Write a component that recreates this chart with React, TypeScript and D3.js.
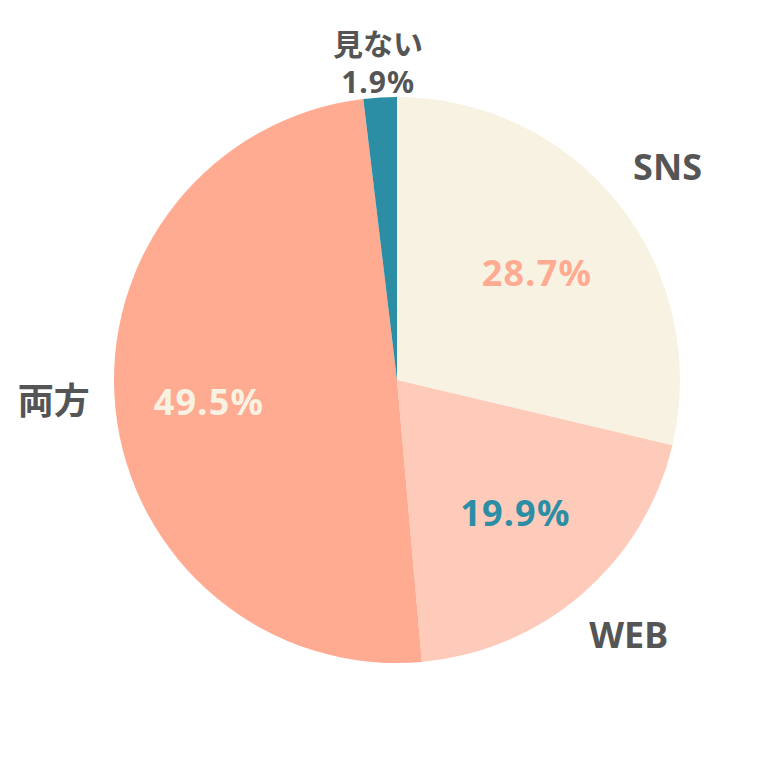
import React from "react";
import * as d3 from "d3";

const categories = ["SNS", "WEB", "両方", "見ない"];
const values = [28.7, 19.9, 49.5, 1.9];
const colors = ["#F8F2E3", "#FECBBB", "#FFAB91", "#2C8EA5"];
const innerTextColors = ["#FFAB91", "#2C8EA5", "#F8F2E3", null];

const W = 780;
const H = 763;
const cx = 397;
const cy = 380;
const R = 283;
// small label nudges (style only)
const outerNudge = [[0, 0], [6, -6], [0, -15], [0, 0]];
const innerNudge = [[-2, 5], [0, -4], [-8, 3], [0, 0]];

export default function App() {
  const pie = d3.pie<number>().sort(null).value((d) => d);
  const arcs = pie(values);
  const arc = d3.arc<d3.PieArcDatum<number>>().innerRadius(0).outerRadius(R);
  const inner = d3.arc<d3.PieArcDatum<number>>().innerRadius(181).outerRadius(181);
  const outer = d3.arc<d3.PieArcDatum<number>>().innerRadius(345).outerRadius(345);
  const font = "'Noto Sans', 'Noto Sans CJK JP', sans-serif";
  const fmt = d3.format(".1f");
  return (
    <svg width={W} height={H} style={{ position: "absolute", left: 0, top: 0 }}>
      <rect width={W} height={H} fill="#fff" />
      <g transform={`translate(${cx},${cy})`}>
        {arcs.map((a, i) => (
          <path key={i} d={arc(a) || ""} fill={colors[i]} />
        ))}
        {arcs.map((a, i) => {
          const c = innerTextColors[i];
          if (!c) return null;
          const [x, y] = inner.centroid(a);
          return (
            <text key={"in" + i} x={x + innerNudge[i][0]} y={y + innerNudge[i][1]} textAnchor="middle" dominantBaseline="central"
              fill={c} fontFamily={font} fontWeight={700} fontSize={36} letterSpacing={1.2}>
              {fmt(values[i])}%
            </text>
          );
        })}
        {arcs.map((a, i) => {
          const [x, y] = outer.centroid(a);
          const multi = innerTextColors[i] === null;
          if (multi) {
            const [mx, my] = d3.arc<d3.PieArcDatum<number>>().innerRadius(318).outerRadius(318).centroid(a);
            return (
              <g key={"out" + i}>
                <text x={mx} y={my - 19} textAnchor="middle" dominantBaseline="central"
                  fill="#555" fontFamily={font} fontWeight={700} fontSize={30}>{categories[i]}</text>
                <text x={mx} y={my + 19} textAnchor="middle" dominantBaseline="central"
                  fill="#555" fontFamily={font} fontWeight={700} fontSize={30} letterSpacing={1}>{fmt(values[i])}%</text>
              </g>
            );
          }
          return (
            <text key={"out" + i} x={x + outerNudge[i][0]} y={y + outerNudge[i][1]} textAnchor="middle" dominantBaseline="central"
              fill="#555" fontFamily={font} fontWeight={700} fontSize={36}>
              {categories[i]}
            </text>
          );
        })}
      </g>
    </svg>
  );
}
